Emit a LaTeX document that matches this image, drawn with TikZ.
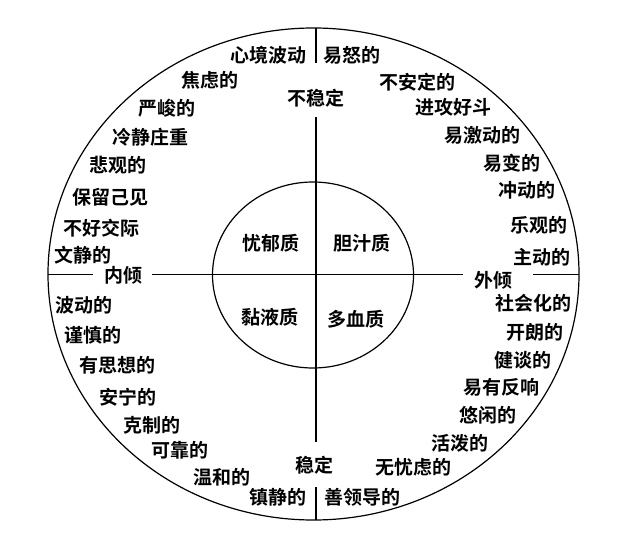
\documentclass[tikz,border=0pt]{standalone}
\usepackage{fontspec}
\setmainfont{Noto Sans CJK SC}[BoldFont={Noto Sans CJK SC Bold}]
\usepackage{tikz}
\usetikzlibrary{positioning}

\begin{document}
\begin{tikzpicture}[x=1bp, y=-1bp, line width=1.2bp,
  trait/.style={font=\fontsize{19bp}{20bp}\selectfont\bfseries, inner sep=0pt},
  temper/.style={trait}]

\useasboundingbox (0,0) rectangle (621,547);

% Outer and inner circles
\draw (313.5,274) ellipse [x radius=265.5, y radius=246];
\draw (313,275) ellipse [x radius=100.5, y radius=93];

% Axes ends and gaps
\coordinate (N) at (316,28);
\coordinate (S) at (316,520);
\coordinate (W) at (48,274.5);
\coordinate (E) at (579,274.5);
\coordinate (ntop) at (316,63);
\coordinate (nbot) at (316,117);
\coordinate (stop) at (316,442);
\coordinate (sbot) at (316,487);
\coordinate (wl) at (93,274.5);
\coordinate (wr) at (152,274.5);
\coordinate (el) at (463,274.5);
\coordinate (er) at (533,274.5);

% Axis labels
\node[trait] (unstable) at (316,98) {不稳定};
\node[trait] (stable) at (314,465) {稳定};
\node[trait] (introvert) at (123,275) {内倾};
\node[trait] (extrovert) at (493,280) {外倾};

\draw (N) -- (ntop) (nbot) -- (stop) (sbot) -- (S);
\draw (W) -- (wl) (wr) -- (el) (er) -- (E);

% Temperaments
\node[temper] (melan) at (271,243) {忧郁质};
\node[temper] (choler) at (362,243) {胆汁质};
\node[temper] (phlegm) at (270,317) {黏液质};
\node[temper] (sanguine) at (356,319) {多血质};

% Upper left
\foreach \x/\y/\txt [count=\i] in {268/55/心境波动, 210/80/焦虑的, 167/108/严峻的,
    150/137/冷静庄重, 118/165/悲观的, 110/197/保留己见, 101/228/不好交际, 83/255/文静的}
  \node[trait] (ul\i) at (\x,\y) {\txt};

% Upper right
\foreach \x/\y/\txt [count=\i] in {352/55/易怒的, 417/82/不安定的, 453/107/进攻好斗,
    482/135/易激动的, 512/163/易变的, 527/190/冲动的, 539/225/乐观的, 542/257/主动的}
  \node[trait] (ur\i) at (\x,\y) {\txt};

% Lower left
\foreach \x/\y/\txt [count=\i] in {84/305/波动的, 93/335/谨慎的, 117/365/有思想的,
    128/397/安宁的, 152/425/克制的, 180/450/可靠的, 222/477/温和的, 278/497/镇静的}
  \node[trait] (ll\i) at (\x,\y) {\txt};

% Lower right
\foreach \x/\y/\txt [count=\i] in {533/303/社会化的, 535/332/开朗的, 523/360/健谈的,
    501/387/易有反响, 488/415/悠闲的, 460/443/活泼的, 413/467/无忧虑的, 362/497/善领导的}
  \node[trait] (lr\i) at (\x,\y) {\txt};

\end{tikzpicture}
\end{document}
